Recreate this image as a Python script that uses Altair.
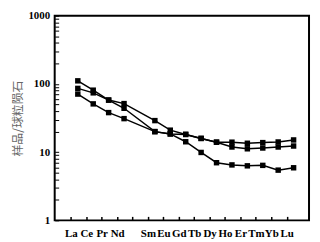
import altair as alt
import pandas as pd

# REE order (Pm has a tick but no data / no label)
elements = ["La", "Ce", "Pr", "Nd", "Pm", "Sm", "Eu", "Gd", "Tb", "Dy", "Ho", "Er", "Tm", "Yb", "Lu"]
axis_labels = ["La", "Ce", "Pr", "Nd", "", "Sm", "Eu", "Gd", "Tb", "Dy", "Ho", "Er", "Tm", "Yb", "Lu"]
measured = ["La", "Ce", "Pr", "Nd", "Sm", "Eu", "Gd", "Tb", "Dy", "Ho", "Er", "Tm", "Yb", "Lu"]

series_a = [111, 81, 58, 44, 20, 18.5, 14.2, 9.9, 7.0, 6.5, 6.3, 6.4, 5.45, 5.9]
series_b = [86, 74, 58, 51.5, 29, 21, 18.2, 15.9, 14.0, 14.0, 13.5, 13.8, 14.1, 15.1]
series_c = [71, 51, 38, 31, 20, 18.5, 18.2, 15.9, 14.0, 11.9, 11.2, 11.5, 11.9, 12.3]

y_major = [1, 10, 100, 1000]
y_title = "样品/球粒陨石"

rows = []
for name, vals in [("A", series_a), ("B", series_b), ("C", series_c)]:
    for el, v in zip(measured, vals):
        rows.append({"sample": name, "element": el, "pos": elements.index(el), "value": v})
df = pd.DataFrame(rows)

tick_shift = 0.45
x_tick_values = [i - tick_shift for i in range(len(elements))]
label_list = "[" + ",".join("'" + e + "'" for e in axis_labels) + "]"
x_label_expr = f"{label_list}[round(datum.value + {tick_shift})]"

y_tick_values = [m * 10 ** d for d in range(3) for m in range(1, 10)] + [1000]
y_label_expr = "indexof([" + ",".join(str(v) for v in y_major) + "], datum.value) >= 0 ? format(datum.value, 'd') : ''"

x_enc = alt.X(
    "pos:Q",
    scale=alt.Scale(domain=[-1.5, 15], nice=False, zero=False),
    axis=alt.Axis(
        values=x_tick_values, labelExpr=x_label_expr, title=None, grid=False,
        domain=False, ticks=True, tickSize=4, tickWidth=1.5, tickColor="black",
        offset=-4, labelPadding=7, labelFont="Liberation Serif", labelFontWeight="bold",
        labelFontSize=11, labelColor="black", labelFlush=False, labelOverlap=False,
    ),
)
y_enc = alt.Y(
    "value:Q",
    scale=alt.Scale(type="log", domain=[1, 1000], nice=False),
    axis=alt.Axis(
        values=y_tick_values, labelExpr=y_label_expr, title=y_title, grid=False,
        domain=False, ticks=True, tickSize=4, tickWidth=1, tickColor="black",
        offset=-4, labelPadding=5, labelFont="Liberation Serif", labelFontWeight="bold",
        labelFontSize=11, labelColor="black", labelFlush=False, labelOverlap=False,
        titleFont="Noto Sans CJK SC", titleFontSize=12, titleFontWeight="normal",
        titleColor="#666666", titlePadding=3,
    ),
)

lines = alt.Chart(df).mark_line(color="black", strokeWidth=1.5).encode(
    x=x_enc, y=y_enc, detail="sample:N", order="pos:Q"
)
points = alt.Chart(df).mark_point(shape="square", filled=True, color="black", size=30, opacity=1).encode(
    x=x_enc, y=y_enc, detail="sample:N"
)

chart = (
    alt.layer(lines, points)
    .properties(
        width=256, height=206,
        padding={"left": 4, "top": 1, "right": 3, "bottom": 2},
    )
    .configure_view(stroke="black", strokeWidth=2)
)

chart.save("out.html", embed_options={"renderer": "svg", "actions": False})
